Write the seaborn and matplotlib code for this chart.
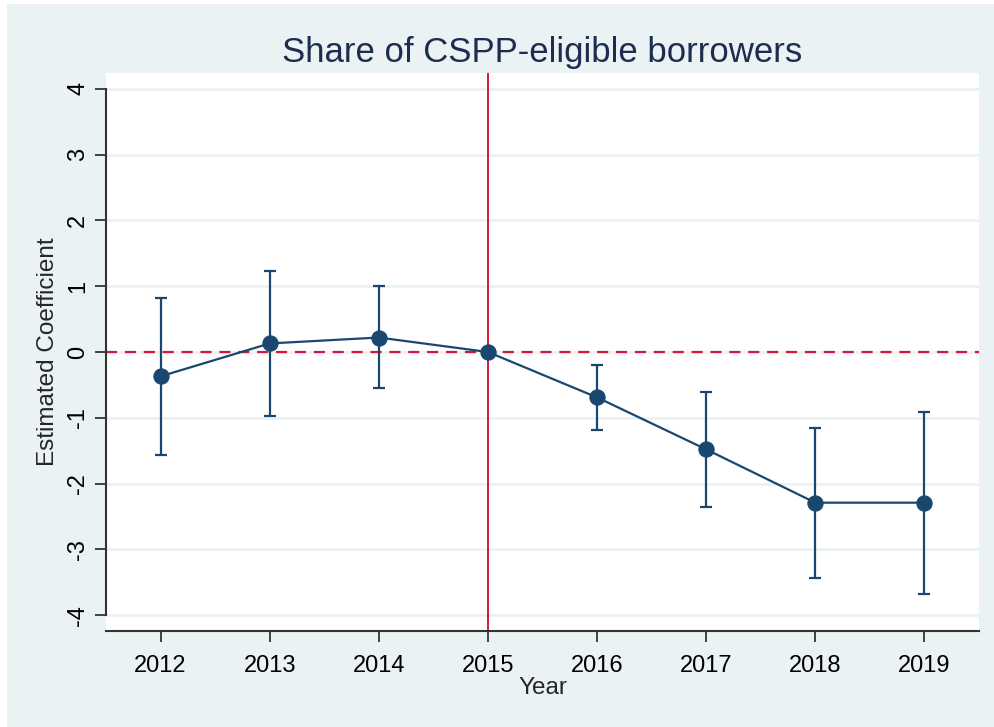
import numpy as np
import pandas as pd
import seaborn as sns
import matplotlib.pyplot as plt
from matplotlib.patches import Rectangle

# estimates
years = [2012, 2013, 2014, 2015, 2016, 2017, 2018, 2019]
coef = [-0.37, 0.13, 0.22, 0.0, -0.69, -1.48, -2.29, -2.29]
ci_low = [-1.57, -0.97, -0.55, 0.0, -1.19, -2.36, -3.43, -3.68]
ci_high = [0.82, 1.23, 1.00, 0.0, -0.20, -0.61, -1.15, -0.91]
yticks = [-4, -3, -2, -1, 0, 1, 2, 3, 4]

df = pd.DataFrame({"Year": years, "coef": coef, "lo": ci_low, "hi": ci_high})

navy = "#1a476f"
red = "#d6163a"
bg = "#eaf2f3"

sns.set_style("white")
plt.rcParams["font.family"] = ["Liberation Sans", "DejaVu Sans"]
plt.rcParams["axes.unicode_minus"] = False

fig = plt.figure(figsize=(9.94, 7.27), dpi=100, facecolor="white")
fig.patches.append(Rectangle((7 / 994, 0), 1, 1 - 4 / 727, transform=fig.transFigure,
                             facecolor=bg, edgecolor="none", zorder=-10))
ax = fig.add_axes([106 / 994, 96 / 727, 873 / 994, 558 / 727])
ax.set_facecolor("white")

# grid
for t in yticks:
    ax.axhline(t, color=bg, lw=2, zorder=0)

ax.axhline(0, color=red, lw=1.6, ls=(0, (5, 3.5)), zorder=1)
ax.axvline(2015, color=red, lw=1.4, zorder=1)

ax.errorbar(df["Year"], df["coef"], yerr=[df["coef"] - df["lo"], df["hi"] - df["coef"]],
            fmt="none", ecolor=navy, elinewidth=1.6, capsize=4.5, capthick=1.6, zorder=2)
sns.lineplot(data=df, x="Year", y="coef", color=navy, lw=1.6, marker="o", markersize=11,
             markeredgecolor=navy, ax=ax, zorder=3)

ax.set_xlim(2011.5, 2019.5)
ax.set_ylim(-4.24, 4.24)
ax.set_xticks(years)
ax.set_yticks(yticks)
ax.tick_params(axis="both", direction="out", length=8, width=1.3, color="#333333",
               labelsize=17, labelcolor="black", bottom=True, left=True)
ax.tick_params(axis="x", pad=9)
ax.tick_params(axis="y", pad=4)
for lbl in ax.get_yticklabels():
    lbl.set_rotation(90)
    lbl.set_va("center")

for s in ["top", "right"]:
    ax.spines[s].set_visible(False)
for s in ["left", "bottom"]:
    ax.spines[s].set_color("#333333")
    ax.spines[s].set_linewidth(1.5)
ax.spines["left"].set_bounds(-4, 4)

ax.set_xlabel("Year", fontsize=17.5, labelpad=0)
ax.set_ylabel("Estimated Coefficient", fontsize=17.5, labelpad=6)
ax.set_title("Share of CSPP-eligible borrowers", fontsize=25, color="#1c2d4f", pad=8)

fig.savefig("out.png", dpi=100, facecolor=fig.get_facecolor())
